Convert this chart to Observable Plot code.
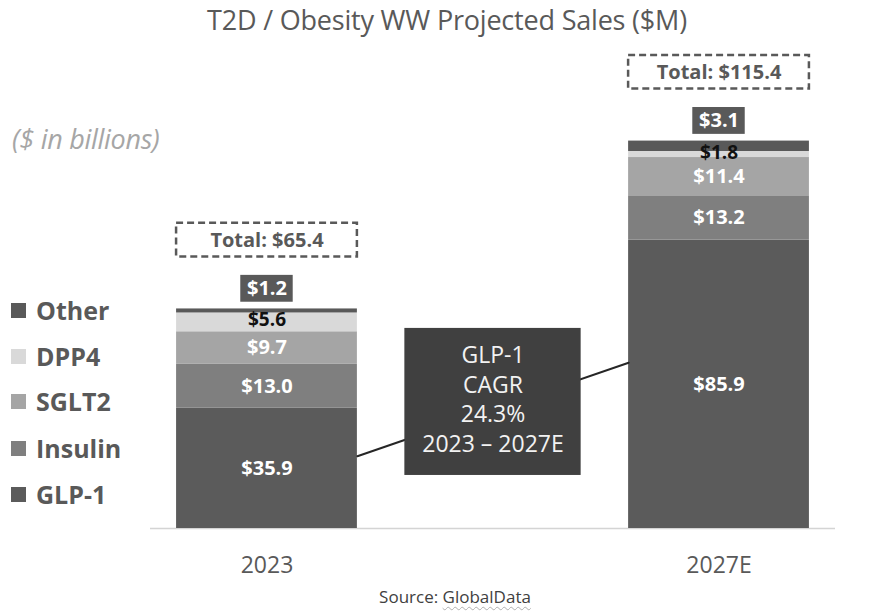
<!DOCTYPE html>
<html>
<head>
<meta charset="utf-8">
<script src="https://cdn.jsdelivr.net/npm/d3@7"></script>
<script src="https://cdn.jsdelivr.net/npm/@observablehq/plot@0.6"></script>
<style>
  body { margin: 0; background: #fff; font-family: "Open Sans", sans-serif; }
  #wrap { position: relative; width: 894px; height: 613px; overflow: hidden; background: #fff; }
  #title { height: 45px; line-height: 40px; text-align: center; font-size: 27px; color: #595959; letter-spacing: -0.2px; }
  #chart { height: 535px; }
  #caption { height: 33px; line-height: 33px; text-align: center; font-size: 17px; color: #404040; padding-left: 16px; }
  #caption .sp { text-decoration: underline wavy #b0b0b0; text-decoration-thickness: 1px; text-underline-offset: 3px; }
  #unit { position: absolute; left: 12px; top: 120px; font-size: 27px; font-style: italic; color: #a6a6a6; letter-spacing: -0.3px; }
  .lg { position: absolute; left: 11px; height: 30px; display: flex; align-items: center; font-size: 25px; font-weight: bold; color: #595959; }
  .lg .sw { width: 15px; height: 15px; margin-right: 10px; }
</style>
</head>
<body>
<div id="wrap">
  <div id="title">T2D / Obesity WW Projected Sales ($M)</div>
  <div id="chart"></div>
  <div id="caption">Source: <span class="sp">GlobalData</span></div>
  <div id="unit">($ in billions)</div>
</div>
<script>
// ---------- data ----------
const years = ["2023", "2027E"];
const categories = ["GLP-1", "Insulin", "SGLT2", "DPP4", "Other"];
const glp1 = [35.9, 85.9];
const insulin = [13.0, 13.2];
const sglt2 = [9.7, 11.4];
const dpp4 = [5.6, 1.8];
const other = [1.2, 3.1];
const totals = [65.4, 115.4];
const legendOrder = ["Other", "DPP4", "SGLT2", "Insulin", "GLP-1"];
const cagrLines = ["GLP-1", "CAGR", "24.3%", "2023 – 2027E"];

// ---------- styles / layout ----------
const colors = ["#5b5b5b", "#7f7f7f", "#a5a5a5", "#d9d9d9", "#595959"];
const BAR_HALF = 0.2;      // half bar width in x units
const TAG_HALF = 0.058;    // half width of the "Other" value tag
const fmt = v => "$" + v.toFixed(1);

const series = [glp1, insulin, sglt2, dpp4, other];
const rows = [];
years.forEach((y, i) => categories.forEach((c, k) => rows.push({i, year: y, category: c, value: series[k][i]})));
const totalRows = years.map((y, i) => ({i, year: y, total: totals[i], other: other[i]}));

// annotation geometry (x in category-index units, y in $B)
const connector = [
  {x: 0 + BAR_HALF, y: glp1[0] * 0.6},
  {x: 1 - BAR_HALF, y: glp1[1] * 0.575}
];
const cagrBox = {x1: 0.305, x2: 0.695, y1: 15.8, y2: 59.6, ty: 38.9};

const chart = Plot.plot({
  width: 894,
  height: 535,
  marginLeft: 150,
  marginRight: 59,
  marginTop: 13,
  marginBottom: 52,
  x: {domain: [-0.2577, 1.2577]},
  y: {domain: [0, 140], axis: null},
  color: {domain: categories, range: colors},
  style: {fontFamily: "Open Sans", background: "white", overflow: "visible"},
  marks: [
    Plot.ruleY([0], {stroke: "#d4d4d4", strokeWidth: 1.5}),
    Plot.rectY(rows, {x1: d => d.i - BAR_HALF, x2: d => d.i + BAR_HALF, y: "value", fill: "category"}),
    Plot.text(rows, Plot.stackY({
      x: "i", y: "value",
      text: d => (d.category === "Other" || d.category === "DPP4") ? "" : fmt(d.value),
      fill: "white", fontWeight: "bold", fontSize: 20
    })),
    Plot.text(rows, Plot.stackY({
      x: "i", y: "value",
      text: d => d.category === "DPP4" ? fmt(d.value) : "",
      fill: "#111", fontWeight: "bold", fontSize: 19, dy: -2
    })),
    Plot.rect(totalRows, {x1: d => d.i - TAG_HALF, x2: d => d.i + TAG_HALF, y1: d => d.total + 2, y2: d => d.total + 10, fill: "#595959"}),
    Plot.text(totalRows, {x: "i", y: d => d.total + 6, text: d => fmt(d.other), fill: "white", fontWeight: "bold", fontSize: 20}),
    Plot.rect(totalRows, {x1: d => d.i - BAR_HALF, x2: d => d.i + BAR_HALF, y1: d => d.total + 15.5, y2: d => d.total + 25.5,
      fill: "none", stroke: "#595959", strokeWidth: 2.5, strokeDasharray: "7,4"}),
    Plot.text(totalRows, {x: "i", y: d => d.total + 20.5, text: d => "Total: " + fmt(d.total), fill: "#595959", fontWeight: "bold", fontSize: 20}),
    Plot.line(connector, {x: "x", y: "y", stroke: "#262626", strokeWidth: 2}),
    Plot.rect([cagrBox], {x1: "x1", x2: "x2", y1: "y1", y2: "y2", fill: "#404040"}),
    Plot.text([cagrLines.join("\n")], {x: 0.5, y: cagrBox.ty, text: d => d, fill: "#f2f2f2", fontSize: 23, lineHeight: 1.3}),
    Plot.axisX({ticks: [0, 1], tickFormat: i => years[i], tickSize: 0, tickPadding: 28, fontSize: 23, color: "#595959", label: null})
  ]
});
document.getElementById("chart").appendChild(chart);

// legend
const wrap = document.getElementById("wrap");
const legendY = [295, 341, 386, 433, 479];
legendOrder.forEach((c, k) => {
  const el = document.createElement("div");
  el.className = "lg";
  el.style.top = legendY[k] + "px";
  const sw = document.createElement("span");
  sw.className = "sw";
  sw.style.background = colors[categories.indexOf(c)];
  el.appendChild(sw);
  el.appendChild(document.createTextNode(c));
  wrap.appendChild(el);
});
</script>
</body>
</html>
